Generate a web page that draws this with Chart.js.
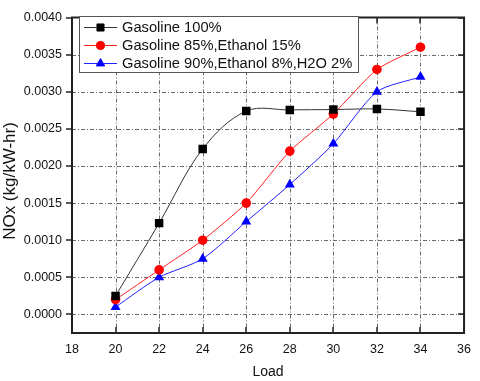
<!DOCTYPE html>
<html>
<head>
<meta charset="utf-8">
<script src="https://cdn.jsdelivr.net/npm/chart.js@4/dist/chart.umd.min.js"></script>
<style>
html,body{margin:0;padding:0;background:#fff;}
#wrap{width:480px;height:381px;}
</style>
</head>
<body>
<div id="wrap"><canvas id="c" width="480" height="381"></canvas></div>
<script>
const loads = [20, 22, 24, 26, 28, 30, 32, 34];
const gasoline100 = [0.00025, 0.00123, 0.00223, 0.00274, 0.002755, 0.00276, 0.002768, 0.00273];
const ethanol15 = [0.0002, 0.0006, 0.0010, 0.0015, 0.0022, 0.0027, 0.0033, 0.0036];
const ethanolH2O = [0.0001, 0.0005, 0.00075, 0.00125, 0.00175, 0.0023, 0.0030, 0.0032];
const xTicks = [18, 20, 22, 24, 26, 28, 30, 32, 34, 36];
const yTicks = [0, 0.0005, 0.0010, 0.0015, 0.0020, 0.0025, 0.0030, 0.0035, 0.0040];
const seriesNames = ['Gasoline 100%', 'Gasoline 85%,Ethanol 15%', 'Gasoline 90%,Ethanol 8%,H2O 2%'];

const FONT = '"Liberation Sans", Arial, sans-serif';

function pts(vals){ return loads.map((x,i)=>({x:x, y:vals[i]})); }

const frame = {
  id:'frame',
  beforeDatasetsDraw(chart){
    const ctx = chart.ctx, a = chart.chartArea;
    const xs = chart.scales.x, ys = chart.scales.y;
    ctx.save();
    ctx.strokeStyle = '#6a6a6a';
    ctx.lineWidth = 1;
    ctx.setLineDash([4,2,1,2]);
    xTicks.forEach(v=>{
      if (v===xTicks[0]||v===xTicks[xTicks.length-1]) return;
      const px = Math.round(xs.getPixelForValue(v))+0.5;
      ctx.beginPath(); ctx.moveTo(px,a.top); ctx.lineTo(px,a.bottom); ctx.stroke();
    });
    yTicks.forEach(v=>{
      if (v===0.0040) return;
      const py = Math.round(ys.getPixelForValue(v))+0.5;
      ctx.beginPath(); ctx.moveTo(a.left,py); ctx.lineTo(a.right,py); ctx.stroke();
    });
    ctx.restore();
  },
  afterDatasetsDraw(chart){
    const ctx = chart.ctx, a = chart.chartArea;
    const xs = chart.scales.x, ys = chart.scales.y;
    ctx.save();
    ctx.setLineDash([]);
    ctx.strokeStyle = '#222';
    ctx.lineWidth = 2;
    ctx.strokeRect(a.left, a.top, a.right-a.left, a.bottom-a.top);
    ctx.lineWidth = 1.5;
    xTicks.forEach(v=>{
      const px = Math.round(xs.getPixelForValue(v));
      ctx.beginPath(); ctx.moveTo(px,a.bottom); ctx.lineTo(px,a.bottom-6); ctx.stroke();
      ctx.beginPath(); ctx.moveTo(px,a.top); ctx.lineTo(px,a.top+6); ctx.stroke();
    });
    yTicks.forEach(v=>{
      const py = Math.round(ys.getPixelForValue(v));
      ctx.beginPath(); ctx.moveTo(a.left-6,py); ctx.lineTo(a.left,py); ctx.stroke();
      ctx.beginPath(); ctx.moveTo(a.right-6,py); ctx.lineTo(a.right,py); ctx.stroke();
    });
    // legend
    const bx=79, by=16, bw=279, bh=56;
    ctx.fillStyle='#fff';
    ctx.fillRect(bx,by,bw,bh);
    ctx.strokeStyle='#555';
    ctx.lineWidth=1;
    ctx.strokeRect(bx+0.5,by+0.5,bw,bh);
    chart.data.datasets.forEach((ds,i)=>{
      const cy = 27 + i*18;
      ctx.strokeStyle = ds.borderColor;
      ctx.lineWidth = 1;
      ctx.beginPath(); ctx.moveTo(84,cy+0.5); ctx.lineTo(117,cy+0.5); ctx.stroke();
      Chart.helpers.drawPoint(ctx, {pointStyle: ds.pointStyle, radius: ds.pointRadius*0.85, borderWidth: 1, rotation:0}, 100.5, cy+0.5);
      ctx.fillStyle = ds.pointBackgroundColor;
      ctx.strokeStyle = ds.pointBorderColor;
      ctx.fill();
      ctx.fillStyle='#111';
      ctx.font = '14.7px ' + FONT;
      ctx.textBaseline='middle';
      ctx.textAlign='left';
      ctx.fillText(ds.label, 122, cy+1);
    });
    // axis titles
    ctx.fillStyle='#111';
    ctx.font = '14px ' + FONT;
    ctx.textAlign='center';
    ctx.textBaseline='middle';
    ctx.fillText('Load', (a.left+a.right)/2, 372);
    ctx.font = '17px ' + FONT;
    ctx.translate(10,181);
    ctx.rotate(-Math.PI/2);
    ctx.fillText('NOx (kg/kW-hr)', 0, 0);
    ctx.restore();
  }
};

new Chart(document.getElementById('c'), {
  type:'line',
  data:{
    datasets:[
      {label:seriesNames[0], data:pts(gasoline100), borderColor:'#333', borderWidth:1,
       pointStyle:'rect', pointRadius:6, pointBackgroundColor:'#000', pointBorderColor:'#000', pointBorderWidth:0, tension:0.35},
      {label:seriesNames[1], data:pts(ethanol15), borderColor:'#ff2020', borderWidth:1,
       pointStyle:'circle', pointRadius:4.8, pointBackgroundColor:'#ff0000', pointBorderColor:'#ff0000', pointBorderWidth:0, tension:0.2},
      {label:seriesNames[2], data:pts(ethanolH2O), borderColor:'#2020ff', borderWidth:1,
       pointStyle:'triangle', pointRadius:5.8, pointBackgroundColor:'#0000ff', pointBorderColor:'#0000ff', pointBorderWidth:0, tension:0.25}
    ]
  },
  options:{
    responsive:false,
    animation:false,
    devicePixelRatio:1,
    layout:{padding:{top:8,right:9,left:0,bottom:0}},
    plugins:{legend:{display:false}, tooltip:{enabled:false}},
    scales:{
      x:{type:'linear', min:18, max:36,
         afterBuildTicks(s){ s.ticks = xTicks.map(v=>({value:v})); },
         afterFit(s){ s.height = 48; },
         grid:{display:false, drawTicks:false}, border:{display:false},
         ticks:{padding:9, color:'#111', font:{family:FONT, size:12.5}, maxRotation:0, autoSkip:false}},
      y:{type:'linear', min:-0.00025, max:0.0040,
         afterBuildTicks(s){ s.ticks = yTicks.map(v=>({value:v})); },
         afterFit(s){ s.width = 72; },
         grid:{display:false, drawTicks:false}, border:{display:false},
         ticks:{padding:10, color:'#111', font:{family:FONT, size:12.5}, autoSkip:false,
                callback:v=>v.toFixed(4)}}
    }
  },
  plugins:[frame]
});
</script>
</body>
</html>
